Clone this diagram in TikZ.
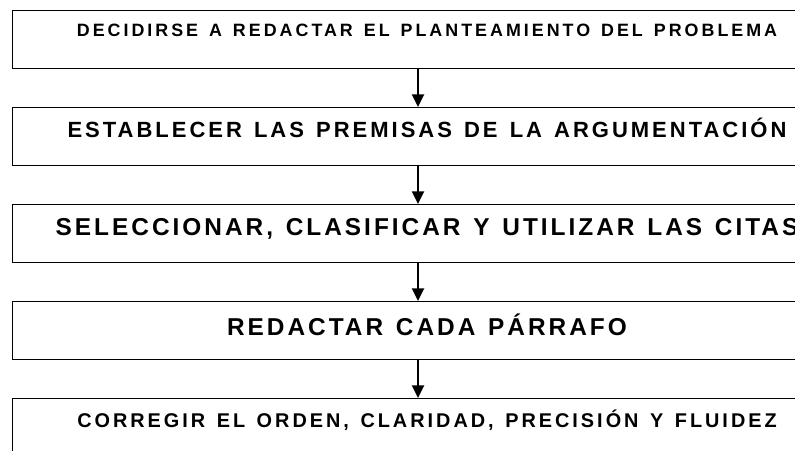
\documentclass[tikz,border=0pt]{standalone}
\usepackage{fontspec}
\setmainfont{Liberation Sans}
\usetikzlibrary{arrows.meta}
\newcommand{\stxt}[2]{\fontsize{#1}{#1}\selectfont\addfontfeature{LetterSpace=#2}\spaceskip=\dimexpr\fontdimen2\font+2.25pt\relax}
\begin{document}
\begin{tikzpicture}[x=0.75pt,y=-0.75pt,
  stepbox/.style={draw=black, line width=1.1pt, inner sep=0pt, anchor=north west,
    minimum width=624pt, minimum height=43.5pt},
  txt/.style={anchor=base, inner sep=0pt, text=black, font=\bfseries},
  arr/.style={line width=1.7pt, -{Triangle[length=9.5pt,width=9pt]}}]
\useasboundingbox (0,0) rectangle (795,450);
\clip (0,0) rectangle (795,450);
\node[stepbox] (b1) at (12,10) {};
\node[stepbox] (b2) at (12,107) {};
\node[stepbox] (b3) at (12,204) {};
\node[stepbox] (b4) at (12,301) {};
\node[stepbox] (b5) at (12,398) {};
\node[txt] (t1) at (427,36.9) {\stxt{13.4pt}{16.8}DECIDIRSE A REDACTAR EL PLANTEAMIENTO DEL PROBLEMA};
\node[txt] (t2) at (427,137.9) {\stxt{16.5pt}{13.6}ESTABLECER LAS PREMISAS DE LA ARGUMENTACIÓN};
\node[txt] (t3) at (427,235.7) {\stxt{18.3pt}{12.3}SELECCIONAR, CLASIFICAR Y UTILIZAR LAS CITAS};
\node[txt] (t4) at (427,335.2) {\stxt{18.3pt}{12.3}REDACTAR CADA PÁRRAFO};
\node[txt] (t5) at (427,427.6) {\stxt{14.9pt}{15.1}CORREGIR EL ORDEN, CLARIDAD, PRECISIÓN Y FLUIDEZ};
\coordinate (ax) at (418,0);
\draw[arr] (b1.south -| ax) -- (b2.north -| ax);
\draw[arr] (b2.south -| ax) -- (b3.north -| ax);
\draw[arr] (b3.south -| ax) -- (b4.north -| ax);
\draw[arr] (b4.south -| ax) -- (b5.north -| ax);
\end{tikzpicture}
\end{document}
